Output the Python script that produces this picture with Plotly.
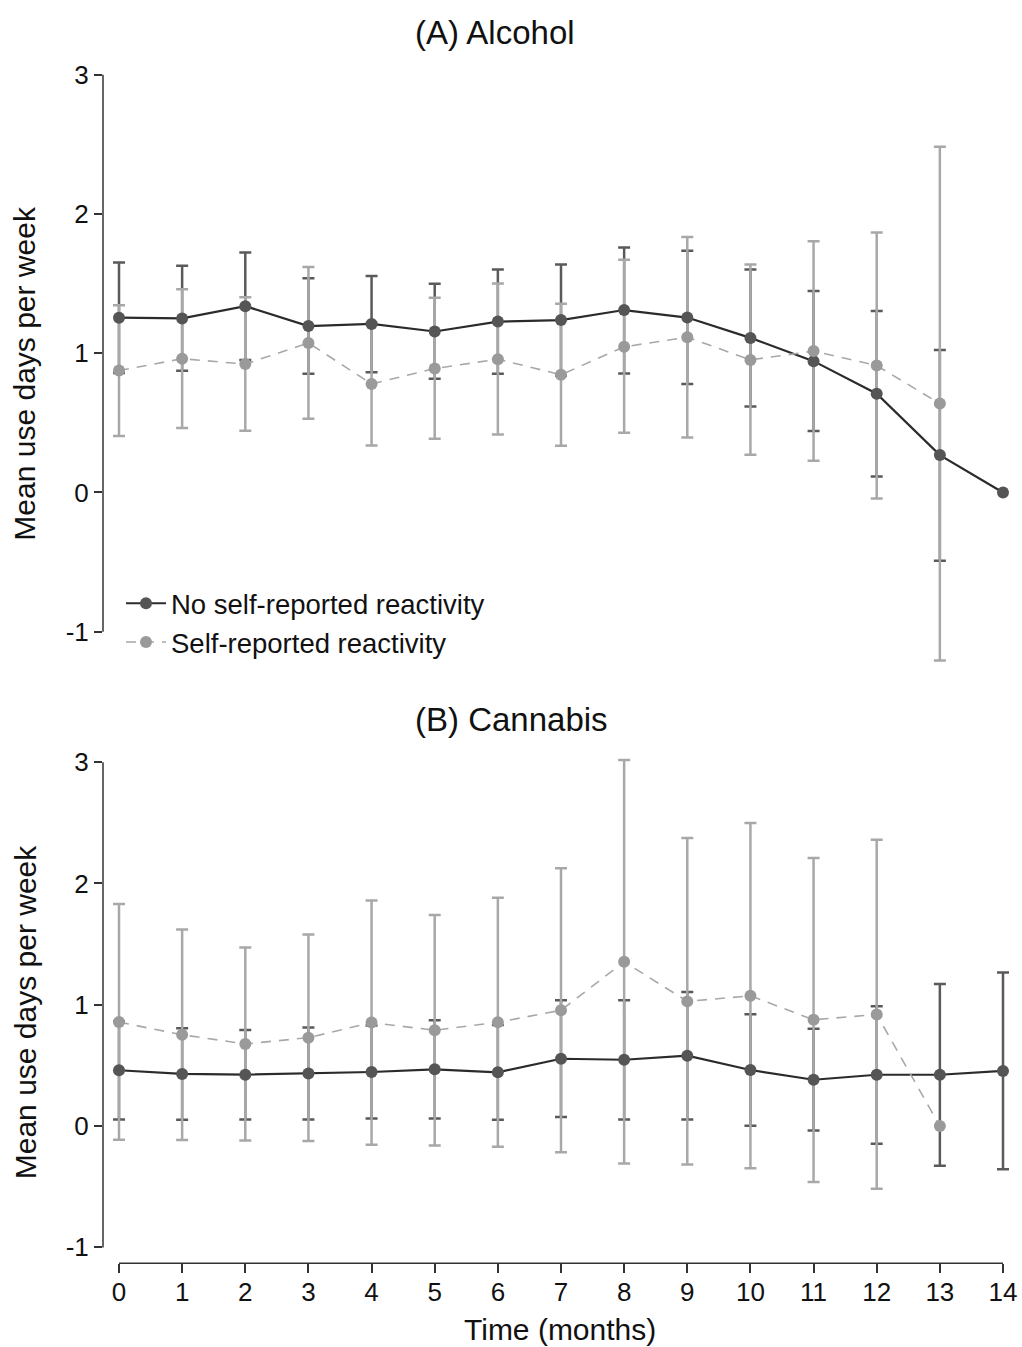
import plotly.graph_objects as go

# ---------------- data ----------------
months = list(range(15))
x_ticks = list(range(15))
y_ticks = [-1, 0, 1, 2, 3]
y_tick_text = ["-1", "0", "1", "2", "3"]

series_names = ["No self-reported reactivity", "Self-reported reactivity"]

# (A) Alcohol - no self-reported reactivity
alc_no_mean = [1.255, 1.250, 1.338, 1.195, 1.210, 1.156, 1.227, 1.238, 1.310, 1.256, 1.110, 0.943, 0.709, 0.268, 0.000]
alc_no_low = [0.858, 0.874, 0.952, 0.852, 0.864, 0.817, 0.852, 0.838, 0.855, 0.778, 0.617, 0.441, 0.115, -0.490, None]
alc_no_high = [1.652, 1.629, 1.724, 1.538, 1.555, 1.498, 1.602, 1.638, 1.760, 1.735, 1.602, 1.446, 1.304, 1.023, None]

# (A) Alcohol - self-reported reactivity
alc_re_mean = [0.875, 0.960, 0.922, 1.074, 0.779, 0.890, 0.957, 0.845, 1.046, 1.115, 0.952, 1.015, 0.911, 0.638]
alc_re_low = [0.405, 0.462, 0.443, 0.529, 0.338, 0.386, 0.417, 0.336, 0.429, 0.395, 0.270, 0.227, -0.043, -1.207]
alc_re_high = [1.345, 1.459, 1.402, 1.619, 1.220, 1.398, 1.500, 1.355, 1.671, 1.834, 1.638, 1.804, 1.867, 2.482]

# (B) Cannabis - no self-reported reactivity
can_no_mean = [0.460, 0.430, 0.424, 0.433, 0.446, 0.468, 0.443, 0.555, 0.547, 0.580, 0.462, 0.382, 0.423, 0.423, 0.455]
can_no_low = [0.055, 0.052, 0.055, 0.055, 0.063, 0.063, 0.052, 0.074, 0.055, 0.055, 0.003, -0.036, -0.145, -0.328, -0.356]
can_no_high = [0.865, 0.807, 0.793, 0.813, 0.829, 0.873, 0.834, 1.037, 1.037, 1.105, 0.922, 0.802, 0.988, 1.171, 1.267]

# (B) Cannabis - self-reported reactivity
can_re_mean = [0.857, 0.753, 0.677, 0.729, 0.853, 0.790, 0.856, 0.955, 1.354, 1.028, 1.074, 0.876, 0.920, 0.000]
can_re_low = [-0.112, -0.115, -0.118, -0.123, -0.153, -0.161, -0.170, -0.216, -0.309, -0.317, -0.347, -0.462, -0.517, None]
can_re_high = [1.830, 1.620, 1.472, 1.579, 1.860, 1.740, 1.882, 2.126, 3.018, 2.375, 2.498, 2.211, 2.361, None]

panel_titles = ["(A) Alcohol", "(B) Cannabis"]
y_title = "Mean use days per week"
x_title = "Time (months)"

# ---------------- styling / layout ----------------
W, H = 1022, 1347
L, R = 103, 1015
FONT = "Liberation Sans, Arial, Helvetica, sans-serif"

DARK_LINE = "#2b2b2b"
DARK_MARK = "#555555"
DARK_ERR = "#5a5a5a"
LIGHT_LINE = "#a8a8a8"
LIGHT_MARK = "#9a9a9a"
LIGHT_ERR = "#a8a8a8"


def px_x(p):
    return (p - L) / (R - L)


def px_y(p):
    return 1 - p / H


fig = go.Figure()


def err_trace(xs, mean, lo, hi, color, xa, ya):
    xx, yy, up, dn = [], [], [], []
    for x, m, l, h in zip(xs, mean, lo, hi):
        if l is None or h is None:
            continue
        xx.append(x)
        yy.append(m)
        up.append(h - m)
        dn.append(m - l)
    return go.Scatter(
        x=xx, y=yy, mode="markers", xaxis=xa, yaxis=ya, showlegend=False,
        hoverinfo="skip",
        marker=dict(size=1, color="rgba(0,0,0,0)"),
        error_y=dict(type="data", symmetric=False, array=up, arrayminus=dn,
                     color=color, thickness=2.5, width=6),
    )


panels = [
    ("x", "y", alc_no_mean, alc_no_low, alc_no_high, alc_re_mean, alc_re_low, alc_re_high, True),
    ("x2", "y2", can_no_mean, can_no_low, can_no_high, can_re_mean, can_re_low, can_re_high, False),
]

for xa, ya, nm, nl, nh, rm, rl, rh, show in panels:
    fig.add_trace(err_trace(months[:len(nm)], nm, nl, nh, DARK_ERR, xa, ya))
    fig.add_trace(err_trace(months[:len(rm)], rm, rl, rh, LIGHT_ERR, xa, ya))
    fig.add_trace(go.Scatter(
        x=months[:len(nm)], y=nm, mode="lines+markers", name=series_names[0],
        xaxis=xa, yaxis=ya, showlegend=show, legendrank=1,
        line=dict(color=DARK_LINE, width=2.2),
        marker=dict(color=DARK_MARK, size=12),
    ))
    fig.add_trace(go.Scatter(
        x=months[:len(rm)], y=rm, mode="lines+markers", name=series_names[1],
        xaxis=xa, yaxis=ya, showlegend=show, legendrank=2,
        line=dict(color=LIGHT_LINE, width=1.6, dash="10px,8px"),
        marker=dict(color=LIGHT_MARK, size=12),
    ))

x_range = [(L - 119) / (884 / 14), (R - 119) / (884 / 14)]

# panel A: 3 at y=70, -1 at y=629
a_unit = (629 - 70) / 4
a_zero = 70 + 3 * a_unit
a_top, a_bot = 60, 672
# panel B: 3 at y=760, -1 at y=1247
b_unit = (1247 - 760) / 4
b_zero = 760 + 3 * b_unit
b_top, b_bot = 750, 1263

tickfont = dict(family=FONT, size=26, color="#111111")

common_y = dict(
    tickmode="array", tickvals=y_ticks, ticktext=y_tick_text, ticks="outside",
    ticklen=8, tickwidth=1.5, tickcolor="#333333", showgrid=False, zeroline=False,
    showline=False, tickfont=tickfont, ticklabelstandoff=0,
)

fig.update_layout(
    width=W, height=H,
    margin=dict(l=L, r=W - R, t=0, b=0),
    paper_bgcolor="white", plot_bgcolor="white",
    font=dict(family=FONT, color="#111111"),
    xaxis=dict(domain=[0, 1], range=x_range, visible=False, anchor="y"),
    yaxis=dict(domain=[px_y(a_bot), px_y(a_top)],
               range=[(a_zero - a_bot) / a_unit, (a_zero - a_top) / a_unit],
               anchor="x", **common_y),
    xaxis2=dict(domain=[0, 1], range=x_range, anchor="y2", tickmode="array",
                tickvals=x_ticks, ticks="outside", ticklen=9, tickwidth=1.5,
                tickcolor="#333333", showgrid=False, zeroline=False, showline=False,
                tickfont=tickfont, ticklabelstandoff=-4),
    yaxis2=dict(domain=[px_y(b_bot), px_y(b_top)],
                range=[(b_zero - b_bot) / b_unit, (b_zero - b_top) / b_unit],
                anchor="x2", **common_y),
    legend=dict(x=px_x(121), y=px_y(576), xanchor="left", yanchor="top",
                bgcolor="rgba(0,0,0,0)", font=dict(family=FONT, size=27.5, color="#111111"),
                itemwidth=40, tracegroupgap=0),
    showlegend=True,
)

# axis lines (span only the labelled range, as in the original)
fig.add_shape(type="line", xref="x domain", yref="y", x0=0, x1=0, y0=-1, y1=3,
              line=dict(color="#333333", width=1.5))
fig.add_shape(type="line", xref="x2 domain", yref="y2", x0=0, x1=0, y0=-1, y1=3,
              line=dict(color="#333333", width=1.5))
fig.add_shape(type="line", xref="x2", yref="y2 domain", x0=0, x1=14, y0=0, y1=0,
              line=dict(color="#333333", width=1.5))

# titles
fig.add_annotation(text=panel_titles[0], xref="paper", yref="paper",
                   x=px_x(413), y=px_y(28), xanchor="left", yanchor="middle",
                   showarrow=False, font=dict(family=FONT, size=33, color="#111111"))
fig.add_annotation(text=panel_titles[1], xref="paper", yref="paper",
                   x=px_x(413), y=px_y(717), xanchor="left", yanchor="middle",
                   showarrow=False, font=dict(family=FONT, size=33, color="#111111"))
# y-axis titles
for cy in (370, 1011):
    fig.add_annotation(text=y_title, xref="paper", yref="paper",
                       x=px_x(25), y=px_y(cy), xanchor="center", yanchor="middle",
                       textangle=-90, showarrow=False,
                       font=dict(family=FONT, size=30, color="#111111"))
# x-axis title
fig.add_annotation(text=x_title, xref="paper", yref="paper",
                   x=px_x(560), y=px_y(1329), xanchor="center", yanchor="middle",
                   showarrow=False, font=dict(family=FONT, size=30, color="#111111"))

fig.write_html("out.html", config={"displayModeBar": False},
               post_script="document.body.style.margin='0';document.body.style.overflow='hidden';")
